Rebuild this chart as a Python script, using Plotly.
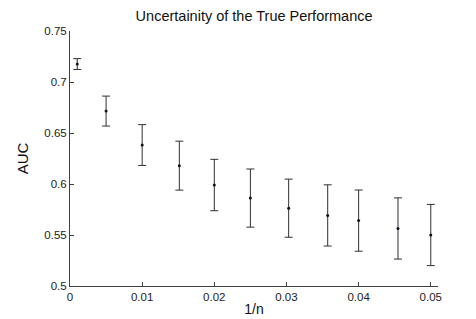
import plotly.graph_objects as go

n_values = [1000, 200, 100, 66, 50, 40, 33, 28, 25, 22, 20]
inv_n = [1.0 / n for n in n_values]
auc_mean = [0.7176, 0.6715, 0.6382, 0.618, 0.599, 0.5862, 0.5763, 0.5692, 0.5641, 0.5564, 0.550]
auc_err = [0.0053, 0.0147, 0.020, 0.024, 0.0252, 0.0285, 0.0285, 0.030, 0.030, 0.030, 0.030]

x_ticks = [0, 0.01, 0.02, 0.03, 0.04, 0.05]
x_ticktext = ["0", "0.01", "0.02", "0.03", "0.04", "0.05"]
y_ticks = [0.5, 0.55, 0.6, 0.65, 0.7, 0.75]
y_ticktext = ["0.5", "0.55", "0.6", "0.65", "0.7", "0.75"]

font = "Liberation Sans, Arial, sans-serif"

fig = go.Figure()
fig.add_trace(go.Scatter(
    x=inv_n, y=auc_mean, mode="markers",
    marker=dict(size=3, color="#101020"),
    error_y=dict(type="data", array=auc_err, visible=True,
                 color="#303030", thickness=1, width=4),
    showlegend=False,
))

fig.update_layout(
    width=476, height=319,
    margin=dict(l=62, r=46, t=23, b=36),
    paper_bgcolor="white", plot_bgcolor="white",
    font=dict(family=font, size=11.5, color="#222"),
    title=dict(text="Uncertainity of the True Performance", x=0.517, xanchor="center",
               y=0.99, yanchor="top", font=dict(size=14.5, color="#111")),
    xaxis=dict(range=[0, 0.051], tickvals=x_ticks, ticktext=x_ticktext,
               showgrid=False, zeroline=False, showline=True, linecolor="#404040",
               linewidth=1, ticks="inside", ticklen=4, tickcolor="#404040",
               title=dict(text="1/n", font=dict(size=14, color="#111"), standoff=2)),
    yaxis=dict(range=[0.5, 0.75], tickvals=y_ticks, ticktext=y_ticktext,
               showgrid=False, zeroline=False, showline=True, linecolor="#404040",
               linewidth=1, ticks="inside", ticklen=4, tickcolor="#404040",
               title=dict(text="AUC", font=dict(size=15, color="#111"), standoff=12)),
)

fig.write_html("out.html")
